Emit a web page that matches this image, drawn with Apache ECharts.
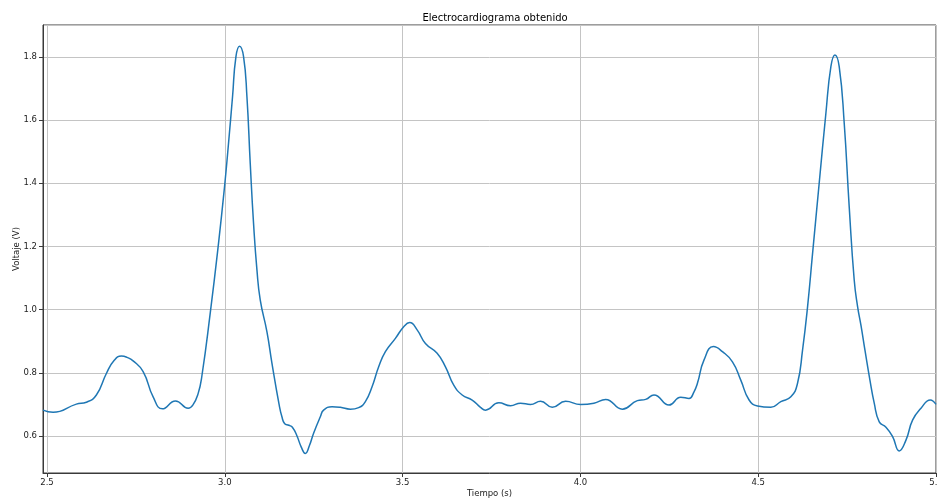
<!DOCTYPE html>
<html>
<head>
<meta charset="utf-8">
<script src="https://cdn.jsdelivr.net/npm/echarts@6/dist/echarts.min.js"></script>
<style>
html,body{margin:0;padding:0;background:#fff;}
#chart{width:937px;height:504px;}
</style>
</head>
<body>
<div id="chart"></div>
<script>
const titleText = "Electrocardiograma obtenido";
const xAxisName = "Tiempo (s)";
const yAxisName = "Voltaje (V)";
const xRange = [2.4887, 5.0];
const yRange = [0.483, 1.901];

const tiempo = [
  2.4887, 2.5169, 2.5825, 2.6106, 2.6388, 2.6669, 2.6880, 2.7092, 2.7250, 2.7421,
  2.7703, 2.7984, 2.8246, 2.8612, 2.8969, 2.9100, 2.9251, 2.9355, 2.9589, 2.9823,
  2.9992, 3.0104, 3.0217, 3.0313, 3.0414, 3.0527, 3.0622, 3.0715, 3.0808, 3.0904,
  3.0997, 3.1185, 3.1326, 3.1526, 3.1608, 3.1680, 3.1800, 3.1900, 3.2030, 3.2150,
  3.2263, 3.2380, 3.2497, 3.2686, 3.2778, 3.3015, 3.3249, 3.3530, 3.3764, 3.3953,
  3.4141, 3.4327, 3.4516, 3.4797, 3.5031, 3.5200, 3.5408, 3.5642, 3.5971, 3.6205,
  3.6438, 3.6675, 3.6956, 3.7190, 3.7330, 3.7706, 3.8035, 3.8316, 3.8597, 3.8879,
  3.9208, 3.9583, 4.0006, 4.0380, 4.0709, 4.1179, 4.1601, 4.1836, 4.2069, 4.2492,
  4.2821, 4.3054, 4.3195, 4.3291, 4.3477, 4.3741, 4.3995, 4.4276, 4.4510, 4.4744,
  4.4980, 4.5355, 4.5636, 4.5918, 4.6106, 4.6247, 4.6388, 4.6529, 4.6715, 4.6903,
  4.7044, 4.7157, 4.7278, 4.7419, 4.7559, 4.7700, 4.7796, 4.7889, 4.8002, 4.8142,
  4.8263, 4.8404, 4.8593, 4.8780, 4.8967, 4.9155, 4.9344, 4.9578, 4.9839, 5.0000
];
const voltaje = [
  0.682, 0.675, 0.701, 0.707, 0.730, 0.798, 0.838, 0.853, 0.849, 0.838,
  0.804, 0.724, 0.686, 0.711, 0.688, 0.698, 0.735, 0.790, 0.988, 1.210,
  1.389, 1.526, 1.674, 1.801, 1.834, 1.801, 1.674, 1.463, 1.273, 1.125,
  1.030, 0.930, 0.830, 0.700, 0.660, 0.640, 0.634, 0.628, 0.600, 0.565,
  0.545, 0.570, 0.609, 0.661, 0.682, 0.693, 0.691, 0.685, 0.690, 0.709,
  0.756, 0.819, 0.867, 0.909, 0.946, 0.959, 0.936, 0.893, 0.862, 0.819,
  0.761, 0.730, 0.714, 0.691, 0.682, 0.705, 0.696, 0.704, 0.700, 0.710,
  0.691, 0.710, 0.700, 0.704, 0.716, 0.685, 0.712, 0.716, 0.730, 0.698,
  0.723, 0.719, 0.740, 0.767, 0.841, 0.883, 0.867, 0.835, 0.777, 0.714,
  0.695, 0.691, 0.709, 0.724, 0.767, 0.872, 1.009, 1.178, 1.400, 1.621,
  1.769, 1.806, 1.769, 1.590, 1.326, 1.094, 1.009, 0.951, 0.872, 0.777,
  0.704, 0.645, 0.628, 0.598, 0.553, 0.587, 0.651, 0.688, 0.714, 0.700
];

const seriesData = tiempo.map((t, i) => [t, voltaje[i]]);

const chart = echarts.init(document.getElementById('chart'), null, {renderer: 'canvas'});
const fontFamily = 'DejaVu Sans, sans-serif';
chart.setOption({
  animation: false,
  backgroundColor: '#ffffff',
  title: {
    text: titleText,
    left: 490,
    top: 8,
    textAlign: 'center',
    textStyle: {fontFamily, fontSize: 10, fontWeight: 'normal', color: '#000'}
  },
  grid: {
    left: 43, right: 1, top: 25, bottom: 31,
    containLabel: false,
    outerBoundsMode: 'none',
    show: true, borderColor: '#3a3a3a', borderWidth: 1, backgroundColor: 'transparent'
  },
  xAxis: {
    type: 'value',
    min: xRange[0], max: xRange[1],
    splitNumber: 5,
    name: xAxisName,
    nameLocation: 'middle',
    nameGap: 16,
    nameMoveOverlap: false,
    nameTextStyle: {fontFamily, fontSize: 8.5, color: '#222'},
    axisLine: {show: true, onZero: false, lineStyle: {color: '#3a3a3a', width: 1}},
    axisTick: {show: true, length: 4, lineStyle: {color: '#3a3a3a'}},
    axisLabel: {
      fontFamily, fontSize: 8.5, color: '#222', margin: 5,
      showMinLabel: false, showMaxLabel: true,
      formatter: v => v.toFixed(1)
    },
    splitLine: {show: true, lineStyle: {color: '#c4c4c4', width: 1}}
  },
  yAxis: {
    type: 'value',
    min: yRange[0], max: yRange[1],
    splitNumber: 7,
    name: yAxisName,
    nameLocation: 'middle',
    nameGap: 22,
    nameMoveOverlap: false,
    nameTextStyle: {fontFamily, fontSize: 8.5, color: '#222'},
    axisLine: {show: true, onZero: false, lineStyle: {color: '#3a3a3a', width: 1}},
    axisTick: {show: true, length: 4, lineStyle: {color: '#3a3a3a'}},
    axisLabel: {
      fontFamily, fontSize: 8.5, color: '#222', margin: 6,
      showMinLabel: false, showMaxLabel: false,
      formatter: v => v.toFixed(1)
    },
    splitLine: {show: true, lineStyle: {color: '#c4c4c4', width: 1}}
  },
  series: [{
    type: 'line',
    data: seriesData,
    showSymbol: false,
    smooth: 0.5,
    lineStyle: {color: '#1f77b4', width: 1.5},
    itemStyle: {color: '#1f77b4'},
    clip: true
  }]
});
</script>
</body>
</html>
